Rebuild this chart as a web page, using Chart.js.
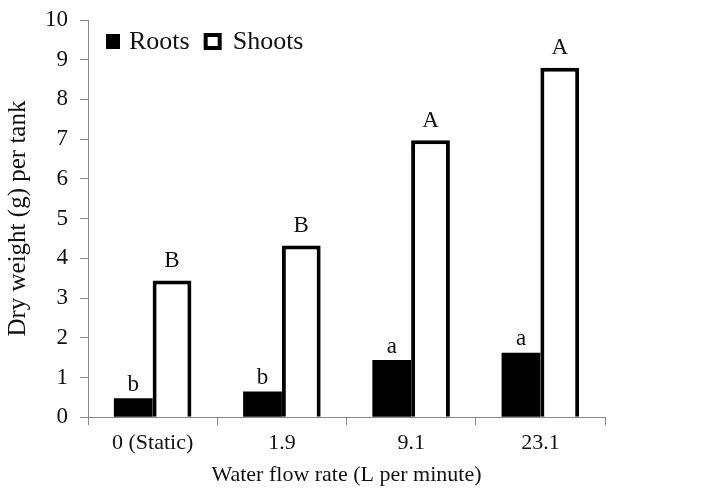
<!DOCTYPE html>
<html>
<head>
<meta charset="utf-8">
<script src="https://cdn.jsdelivr.net/npm/chart.js"></script>
<style>
  html, body { margin: 0; padding: 0; background: #fff; }
  #wrap { width: 705px; height: 495px; }
</style>
</head>
<body>
<div id="wrap"><canvas id="chart" width="705" height="495"></canvas></div>
<script>
// data
const flowRates = ['0 (Static)', '1.9', '9.1', '23.1'];
const roots = [0.48, 0.65, 1.44, 1.62];
const shoots = [3.44, 4.32, 6.97, 8.8];
const rootLetters = ['b', 'b', 'a', 'a'];
const shootLetters = ['B', 'B', 'A', 'A'];
const yTicks = [0, 1, 2, 3, 4, 5, 6, 7, 8, 9, 10];

const serif = '"Liberation Serif", "Times New Roman", serif';

// letters above bars
const letterPlugin = {
    id: 'letters',
    afterDatasetsDraw(chart) {
        const ctx = chart.ctx;
        const sets = [rootLetters, shootLetters];
        ctx.save();
        ctx.fillStyle = '#111';
        ctx.font = '23px ' + serif;
        ctx.textAlign = 'center';
        ctx.textBaseline = 'bottom';
        sets.forEach((letters, di) => {
            chart.getDatasetMeta(di).data.forEach((bar, i) => {
                ctx.fillText(letters[i], bar.x, bar.y - (di === 0 ? 2 : 8));
            });
        });
        ctx.restore();
    }
};

// legend inside plot, top-left
const legendPlugin = {
    id: 'insideLegend',
    afterDraw(chart) {
        const ctx = chart.ctx;
        const area = chart.chartArea;
        let x = area.left + 18;
        const y = area.top + 21;
        ctx.save();
        ctx.font = '26px ' + serif;
        ctx.textBaseline = 'middle';
        chart.data.datasets.forEach(ds => {
            let gap;
            if (ds.borderWidth > 1) {
                ctx.lineWidth = 4;
                ctx.strokeStyle = ds.borderColor;
                ctx.strokeRect(x + 2, y - 6, 14, 13);
                gap = 29;
            } else {
                ctx.fillStyle = ds.backgroundColor;
                ctx.fillRect(x, y - 7, 14, 15);
                gap = 23;
            }
            ctx.fillStyle = '#111';
            ctx.fillText(ds.label, x + gap, y + 1);
            x += gap + ctx.measureText(ds.label).width + 14;
        });
        ctx.restore();
    }
};

new Chart(document.getElementById('chart'), {
    type: 'bar',
    data: {
        labels: flowRates,
        datasets: [{
            label: 'Roots',
            data: roots,
            backgroundColor: '#000',
            borderColor: '#000',
            borderWidth: 0,
            categoryPercentage: 0.6,
            barPercentage: 1.0
        }, {
            label: 'Shoots',
            data: shoots,
            backgroundColor: '#fff',
            borderColor: '#000',
            borderWidth: 4,
            categoryPercentage: 0.6,
            barPercentage: 1.0
        }]
    },
    options: {
        responsive: false,
        animation: false,
        layout: { padding: { left: 1, right: 100, top: 20, bottom: 3 } },
        plugins: {
            legend: { display: false },
            tooltip: { enabled: false }
        },
        scales: {
            y: {
                min: 0,
                max: 10,
                afterBuildTicks(axis) { axis.ticks = yTicks.map(v => ({ value: v })); },
                afterFit(axis) { axis.paddingTop = 0; },
                grid: {
                    drawOnChartArea: false,
                    color: '#888',
                    tickLength: 8
                },
                border: { color: '#888', width: 1 },
                ticks: {
                    color: '#111',
                    font: { family: serif, size: 23 },
                    padding: 12
                },
                title: {
                    display: true,
                    text: 'Dry weight (g) per tank',
                    color: '#111',
                    font: { family: serif, size: 25 },
                    padding: { top: 2, bottom: 0 }
                }
            },
            x: {
                grid: {
                    offset: true,
                    drawOnChartArea: false,
                    color: '#888',
                    tickLength: 8
                },
                border: { color: '#888', width: 1 },
                ticks: {
                    color: '#111',
                    font: { family: serif, size: 22 },
                    padding: 5
                },
                title: {
                    display: true,
                    text: 'Water flow rate (L per minute)',
                    color: '#111',
                    font: { family: serif, size: 22 },
                    padding: { top: 0 }
                }
            }
        }
    },
    plugins: [letterPlugin, legendPlugin]
});
</script>
</body>
</html>
